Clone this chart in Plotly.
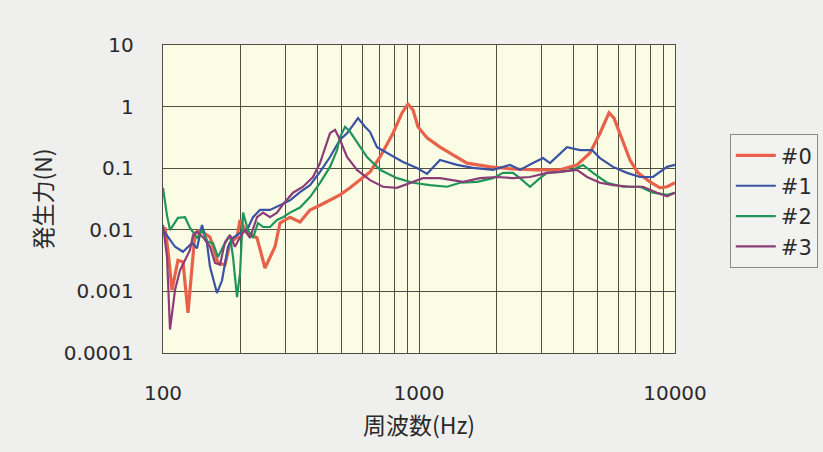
import plotly.graph_objects as go

# ---- data ----
series_names = ["#0", "#1", "#2", "#3"]

f0 = [101.8, 105, 108.4, 114.4, 119.7, 125.2, 133.4, 139.5, 152.6, 164, 174.6, 182.7, 194.6, 200, 212.9,
      232.9, 250.3, 273.8, 286.4, 313.4, 342.9, 375.2, 410.5, 449.2, 491.4, 537.8, 588.3, 643.6, 704.3,
      791.4, 858.3, 905.7, 947.6, 991, 1075, 1208, 1358, 1540, 1894, 2329, 2890, 3554, 4142, 4656, 5093,
      5524, 5780, 6209, 6672, 7170, 7986, 8739, 9306, 10000]
v0 = [0.011, 0.004, 0.00105, 0.0032, 0.003, 0.00045, 0.0089, 0.0099, 0.0076, 0.0029, 0.0027, 0.0061, 0.0076,
      0.0144, 0.0089, 0.0074, 0.0024, 0.0053, 0.0129, 0.016, 0.0134, 0.021, 0.025, 0.030, 0.037, 0.048, 0.064,
      0.087, 0.152, 0.37, 0.79, 1.10, 0.88, 0.47, 0.31, 0.22, 0.164, 0.121, 0.105, 0.097, 0.094, 0.094, 0.113,
      0.177, 0.37, 0.79, 0.65, 0.29, 0.136, 0.084, 0.060, 0.048, 0.050, 0.058]

f1 = [100, 106.5, 111.4, 119.7, 129.8, 135.8, 142, 148.5, 152.6, 162.5, 170, 179.4, 187.7, 200, 212.9, 224.7,
      239.3, 261.8, 286.4, 313.4, 342.9, 375.2, 410.5, 449.2, 491.4, 523.5, 552.5, 577.8, 615.3, 643.6, 685.5,
      770.4, 866, 982, 1075, 1208, 1408, 1626, 1946, 2267, 2480, 2788, 3052, 3249, 3785, 4256, 4741, 5093,
      5726, 6494, 7299, 8207, 9306, 10000]
v1 = [0.01, 0.007, 0.0053, 0.0044, 0.0061, 0.005, 0.012, 0.0061, 0.0025, 0.00094, 0.0015, 0.0053, 0.0074,
      0.0089, 0.0099, 0.016, 0.021, 0.021, 0.025, 0.030, 0.041, 0.053, 0.087, 0.152, 0.29, 0.37, 0.50, 0.65,
      0.47, 0.39, 0.22, 0.164, 0.126, 0.101, 0.081, 0.136, 0.113, 0.101, 0.094, 0.113, 0.094, 0.121, 0.146,
      0.121, 0.22, 0.197, 0.197, 0.146, 0.105, 0.084, 0.072, 0.072, 0.105, 0.113]

f2 = [100, 103.7, 106.5, 114.4, 121.9, 127.5, 135.8, 142, 149.9, 156.8, 164, 171.5, 182.7, 187.7, 194.6, 200,
      205.4, 214.8, 224.7, 235, 245.9, 261.8, 278.8, 294.3, 313.4, 342.9, 375.2, 410.5, 449.2, 478.4, 491.4,
      514.2, 537.8, 572.6, 626.5, 704.3, 820.5, 947.6, 1104, 1287, 1446, 1686, 1946, 2129, 2329, 2480, 2714,
      2970, 3162, 3554, 3996, 4373, 4784, 5425, 6266, 7299, 8207, 9306, 10000]
v2 = [0.048, 0.017, 0.0099, 0.0156, 0.016, 0.0107, 0.0074, 0.0099, 0.0063, 0.0061, 0.0036, 0.0053, 0.0082,
      0.0036, 0.00081, 0.002, 0.019, 0.0099, 0.0074, 0.0129, 0.0111, 0.0111, 0.0144, 0.016, 0.019, 0.023,
      0.034, 0.058, 0.105, 0.197, 0.32, 0.47, 0.39, 0.26, 0.152, 0.094, 0.069, 0.058, 0.053, 0.050, 0.058,
      0.060, 0.069, 0.084, 0.084, 0.069, 0.050, 0.069, 0.084, 0.087, 0.094, 0.113, 0.084, 0.058, 0.050,
      0.050, 0.040, 0.037, 0.040]

f3 = [100, 103.7, 106.5, 111.4, 116.5, 121.9, 127.5, 131, 135.8, 143.3, 152.6, 159.7, 167, 174.6, 182.7, 191,
      200, 209, 218.7, 232.9, 245.9, 261.8, 278.8, 294.3, 322, 352.3, 385.4, 410.5, 429.5, 449.2, 469.9, 491.4,
      523.5, 572.6, 643.6, 723.5, 820.5, 922.2, 1036, 1208, 1486, 1731, 2017, 2329, 2714, 3162, 3554, 4142,
      4533, 5093, 5726, 6672, 7499, 8506, 9306, 10000]
v3 = [0.012, 0.0036, 0.00024, 0.00105, 0.0022, 0.0032, 0.0047, 0.0082, 0.0092, 0.0076, 0.0053, 0.0029, 0.0027,
      0.0063, 0.0082, 0.0053, 0.0076, 0.0099, 0.0074, 0.016, 0.019, 0.016, 0.019, 0.026, 0.040, 0.050, 0.072,
      0.121, 0.22, 0.37, 0.42, 0.29, 0.152, 0.094, 0.064, 0.050, 0.048, 0.058, 0.069, 0.069, 0.060, 0.069,
      0.072, 0.069, 0.072, 0.084, 0.087, 0.094, 0.072, 0.058, 0.053, 0.050, 0.050, 0.040, 0.035, 0.040]

x_tickvals = [m * 10 ** e for e in (2, 3) for m in range(1, 10)] + [10000]
x_ticktext = ["100" if v == 100 else "1000" if v == 1000 else "10000" if v == 10000 else "" for v in x_tickvals]
y_tickvals = [0.0001, 0.001, 0.01, 0.1, 1, 10]
y_ticktext = ["0.0001", "0.001", "0.01", "0.1", "1", "10"]

colors = ["#e8614a", "#3a52a3", "#20955a", "#8b3d78"]
widths = [3.2, 2.2, 2.2, 2.2]

fig = go.Figure()
for name, fx, vy, c, w in zip(series_names, [f0, f1, f2, f3], [v0, v1, v2, v3], colors, widths):
    fig.add_trace(go.Scatter(x=fx, y=vy, mode="lines", name=name,
                             line=dict(color=c, width=w)))

font_family = "DejaVu Sans, Noto Sans CJK JP, sans-serif"
cjk_family = "Noto Sans CJK JP, DejaVu Sans, sans-serif"
grid_color = "#4f4f44"
bg = "#efefee"

fig.update_layout(
    width=823, height=452,
    margin=dict(l=163, r=148, t=45, b=99, autoexpand=False),
    paper_bgcolor=bg,
    plot_bgcolor="#fbfce4",
    font=dict(family=font_family, size=20, color="#2a2a2a"),
    showlegend=True,
    legend=dict(
        x=1.107, y=0.71, xanchor="left", yanchor="top",
        bgcolor="#f2f2f0", bordercolor="#8a8a8a", borderwidth=1,
        font=dict(size=21, color="#2a2a2a"),
        tracegroupgap=0, itemwidth=40,
    ),
    xaxis=dict(
        type="log", range=[2, 4],
        tickvals=x_tickvals, ticktext=x_ticktext,
        showgrid=True, gridcolor=grid_color, gridwidth=1.4,
        showline=True, linecolor=grid_color, linewidth=1.4, mirror=True,
        ticks="", ticklabelstandoff=22,
        title=dict(text="周波数(Hz)", standoff=13,
                   font=dict(size=23, family=cjk_family)),
        zeroline=False,
    ),
    yaxis=dict(
        type="log", range=[-4, 1],
        tickvals=y_tickvals, ticktext=y_ticktext,
        showgrid=True, gridcolor=grid_color, gridwidth=1.4,
        showline=True, linecolor=grid_color, linewidth=1.4, mirror=True,
        ticks="", ticklabelstandoff=24,
        title=dict(text="発生力(N)", standoff=4,
                   font=dict(size=23, family=cjk_family)),
        zeroline=False,
    ),
)

fig.write_html(
    "out.html",
    config={"displayModeBar": False},
    post_script="document.body.style.margin='0';document.body.style.background='%s';" % bg,
)
